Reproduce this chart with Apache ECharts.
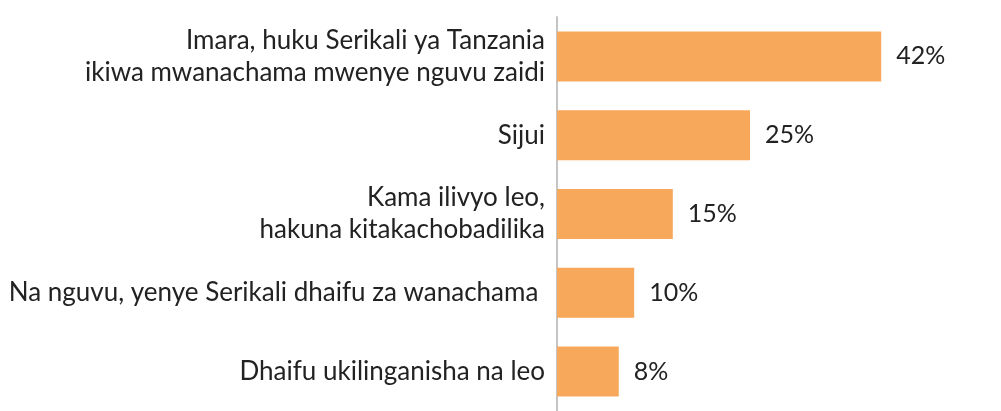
<!DOCTYPE html>
<html><head><meta charset="utf-8">
<script src="https://cdn.jsdelivr.net/npm/echarts@6/dist/echarts.min.js"></script>
<style>html,body{margin:0;padding:0;background:#fff}#c{width:1001px;height:411px}</style>
</head><body><div id="c"></div>
<script>
const categories = [
  "Imara, huku Serikali ya Tanzania\nikiwa mwanachama mwenye nguvu zaidi",
  "Sijui",
  "Kama ilivyo leo,\nhakuna kitakachobadilika",
  "Na nguvu, yenye Serikali dhaifu za wanachama ",
  "Dhaifu ukilinganisha na leo"
];
const values = [42, 25, 15, 10, 8];

const chart = echarts.init(document.getElementById('c'));
chart.setOption({
  animation: false,
  grid: { left: 557, right: 58, top: 17, bottom: -2, containLabel: false },
  xAxis: { type: 'value', min: 0, max: 50, show: false },
  yAxis: {
    type: 'category', data: categories, inverse: true,
    axisLine: { show: true, lineStyle: { color: '#c4c4c4', width: 2 } },
    axisTick: { show: false },
    axisLabel: { fontFamily: 'Lato', fontSize: 26, color: '#222', margin: 12, lineHeight: 32, align: 'right', padding: [4, 0, 0, 0] }
  },
  series: [{
    type: 'bar', data: values, barWidth: 50,
    itemStyle: { color: '#F8A85B' },
    label: { show: true, position: 'right', distance: 15, formatter: '{c}%', fontFamily: 'Lato', fontSize: 25, color: '#222' }
  }]
});
</script></body></html>
